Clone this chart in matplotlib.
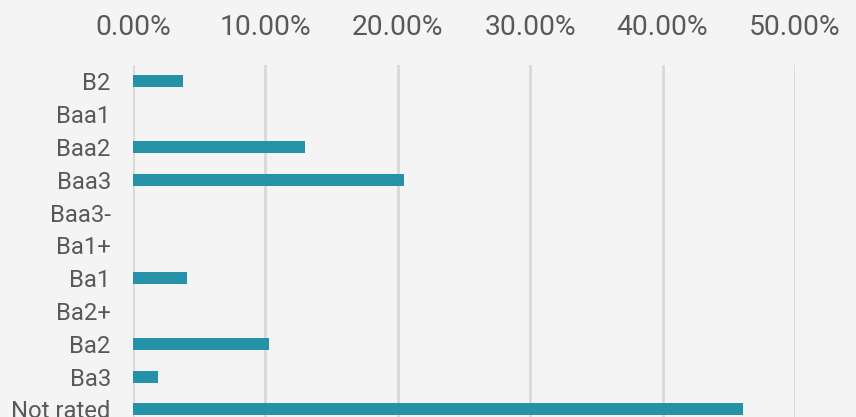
import matplotlib
matplotlib.use("Agg")
import matplotlib.pyplot as plt
from matplotlib.ticker import FuncFormatter, MultipleLocator

categories = ["B2", "Baa1", "Baa2", "Baa3", "Baa3-", "Ba1+", "Ba1", "Ba2+", "Ba2", "Ba3", "Not rated"]
values = [0.038, 0.0, 0.130, 0.205, 0.0, 0.0, 0.041, 0.0, 0.103, 0.019, 0.461]

bg = "#f4f4f4"
bar_color = "#2592a8"
text_color = "#595959"

plt.rcParams['font.family'] = ['Roboto', 'DejaVu Sans']

fig = plt.figure(figsize=(8.56, 4.17), dpi=100, facecolor=bg)
W, H = 856, 417
left, right, top = 133, 795, 65
n = len(categories)
step = 32.8
bottom = top + n * step
ax = fig.add_axes([left / W, 1 - bottom / H, (right - left) / W, (bottom - top) / H])
ax.set_facecolor(bg)

y = list(range(n))
ax.barh(y, values, height=0.37, color=bar_color, zorder=3)
ax.set_ylim(n - 0.5, -0.5)
ax.set_xlim(0, 0.5)
ax.set_yticks(y)
ax.set_yticklabels(categories, fontsize=17.2, color=text_color)
ax.xaxis.set_major_locator(MultipleLocator(0.1))
ax.xaxis.set_major_formatter(FuncFormatter(lambda v, p: f"{v*100:.2f}%"))
ax.xaxis.tick_top()
ax.tick_params(axis='x', labelsize=20.3, colors=text_color, length=0, pad=17)
ax.tick_params(axis='y', length=0, pad=16)
ax.grid(axis='x', color="#d9d9d9", linewidth=2, zorder=0)
for s in ax.spines.values():
    s.set_visible(False)

fig.savefig("out.png", dpi=100, facecolor=bg)
